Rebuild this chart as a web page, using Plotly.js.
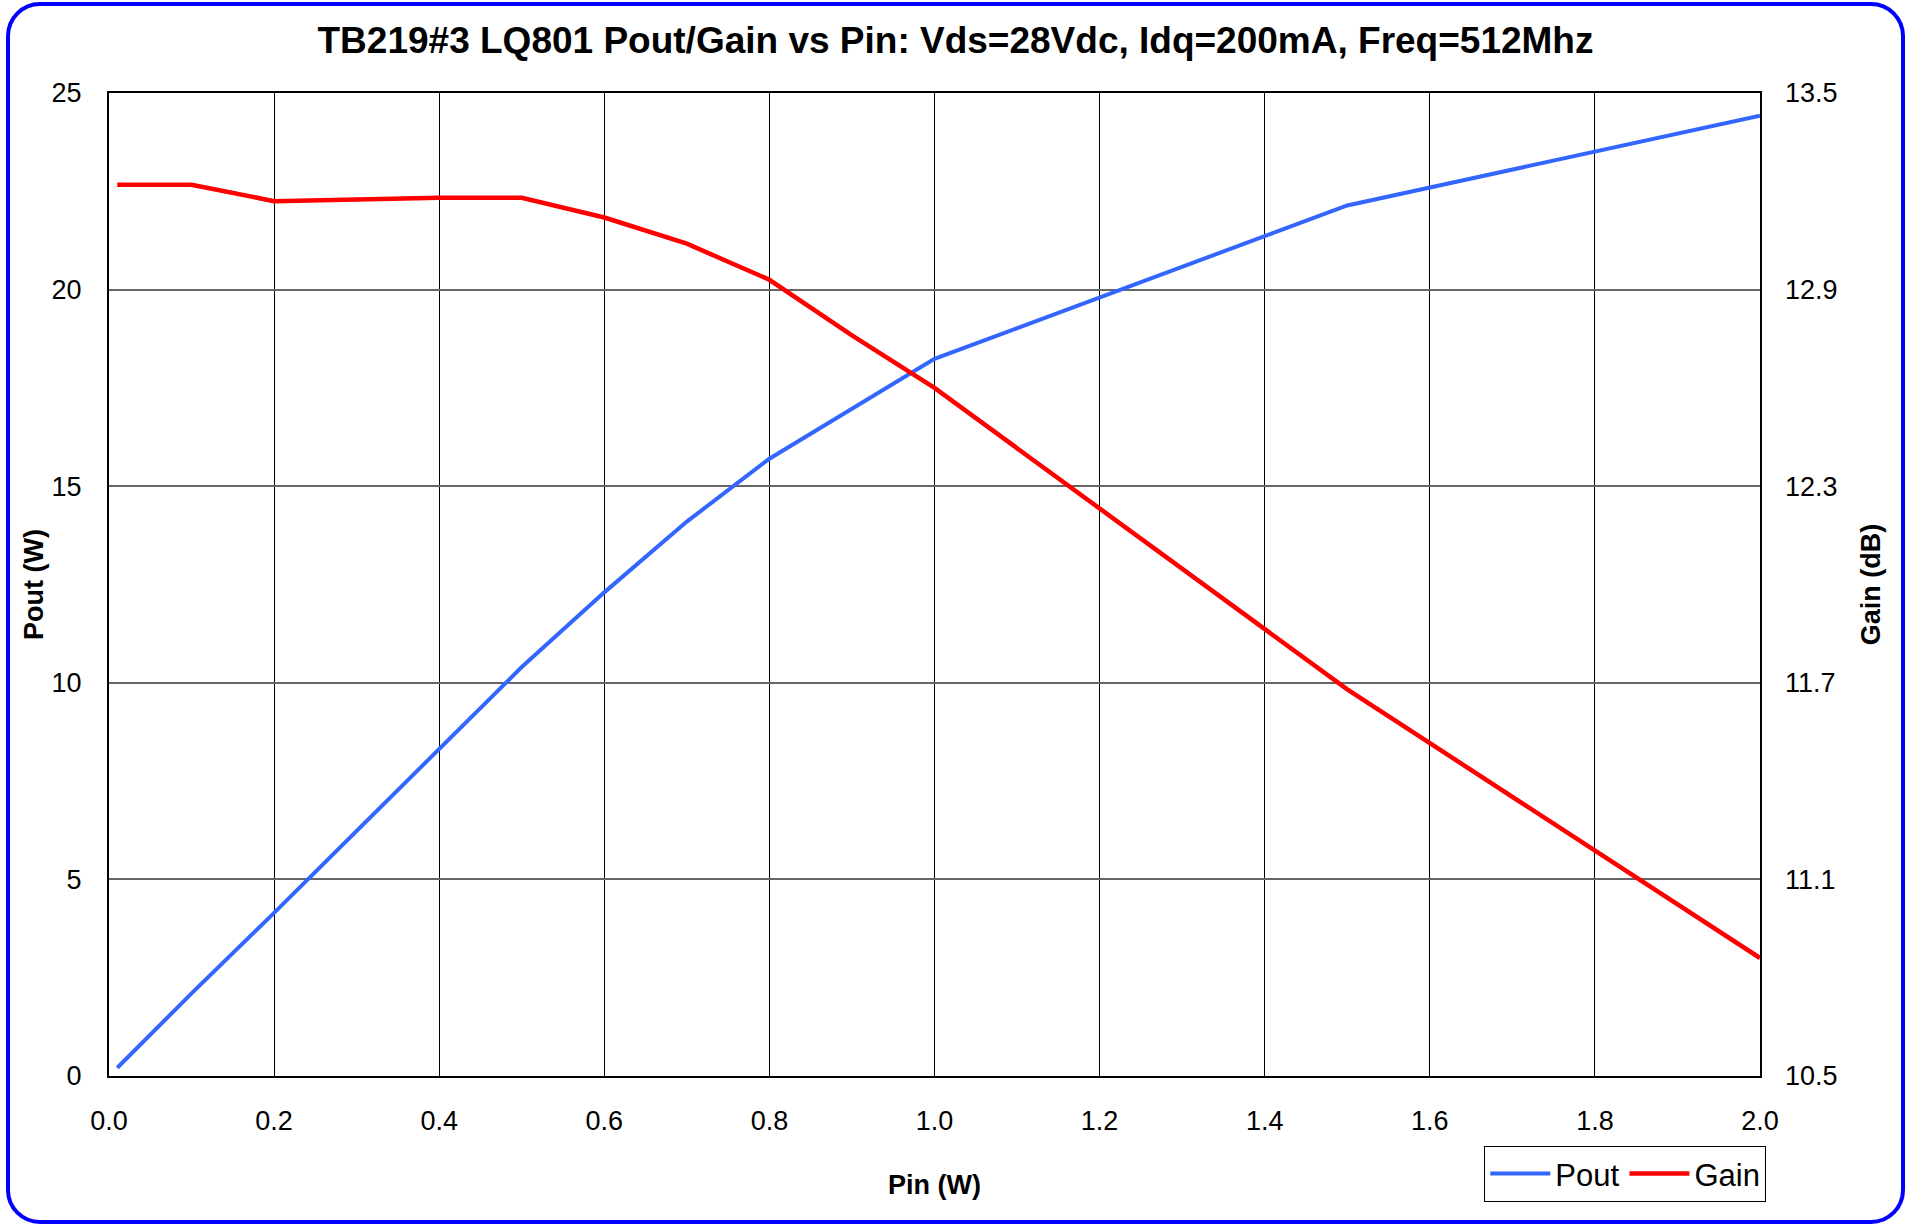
<!DOCTYPE html>
<html>
<head>
<meta charset="utf-8">
<script src="https://cdn.plot.ly/plotly-3.0.1.min.js"></script>
<style>
  html, body { margin: 0; padding: 0; background: #fff; }
  #wrap { position: relative; width: 1911px; height: 1225px; }
  #chart { position: absolute; left: 0; top: 0; width: 1911px; height: 1225px; }
  #frame { position: absolute; left: 6px; top: 2px; width: 1891px; height: 1214px;
           border: 4px solid #0000FF; border-radius: 34px; pointer-events: none; }
</style>
</head>
<body>
<div id="wrap">
  <div id="chart"></div>
  <div id="frame"></div>
</div>
<script>
// Input power (W)
const pinW = [0.01, 0.1, 0.2, 0.3, 0.4, 0.5, 0.6, 0.7, 0.8, 0.9, 1.0, 1.5, 2.0];
// Output power (W)
const poutW = [0.21, 2.1, 4.15, 6.23, 8.32, 10.4, 12.3, 14.1, 15.7, 16.98, 18.24, 22.14, 24.42];
// Gain (dB)
const gainDb = [13.22, 13.22, 13.17, 13.175, 13.18, 13.18, 13.12, 13.04, 12.93, 12.76, 12.60, 11.68, 10.86];

const titleText = 'TB219#3 LQ801 Pout/Gain vs Pin: Vds=28Vdc, Idq=200mA, Freq=512Mhz';
const FONT = 'Liberation Sans, Arial, sans-serif';

const traces = [
  { x: pinW, y: poutW, name: 'Pout', type: 'scatter', mode: 'lines',
    line: { color: '#3366FF', width: 4 }, yaxis: 'y' },
  { x: pinW, y: gainDb, name: 'Gain', type: 'scatter', mode: 'lines',
    line: { color: '#FF0000', width: 4.5 }, yaxis: 'y2' }
];

const layout = {
  width: 1911, height: 1225,
  margin: { l: 109, r: 151, t: 93, b: 149 },
  paper_bgcolor: '#ffffff', plot_bgcolor: '#ffffff',
  font: { family: FONT, color: '#000', size: 27 },
  title: { text: '<b>' + titleText + '</b>', font: { family: FONT, size: 37, color: '#000' },
           x: 0.5, xanchor: 'center', y: 0.967, yanchor: 'middle' },
  showlegend: true,
  legend: { orientation: 'h', x: 0.833, xanchor: 'left', y: -0.071, yanchor: 'top',
            bordercolor: '#000', borderwidth: 1, bgcolor: '#fff',
            font: { family: FONT, size: 31, color: '#000' }, itemwidth: 60 },
  xaxis: {
    range: [0, 2], dtick: 0.2, tick0: 0, tickformat: '.1f',
    showgrid: true, gridcolor: '#000', gridwidth: 1,
    showline: true, linecolor: '#000', linewidth: 2, mirror: true,
    zeroline: false, ticks: '', ticklabelstandoff: 20,
    tickfont: { family: FONT, size: 27 },
    title: { text: '<b>Pin (W)</b>', font: { family: FONT, size: 27 }, standoff: 40 }
  },
  yaxis: {
    range: [0, 25], dtick: 5, tick0: 0,
    showgrid: true, gridcolor: '#666', gridwidth: 2,
    showline: true, linecolor: '#000', linewidth: 2, mirror: true,
    zeroline: false, ticks: '', ticklabelstandoff: 20,
    tickfont: { family: FONT, size: 27 },
    title: { text: '<b>Pout (W)</b>', font: { family: FONT, size: 27 }, standoff: 0 }
  },
  yaxis2: {
    range: [10.5, 13.5], dtick: 0.6, tick0: 10.5, tickformat: '.1f',
    overlaying: 'y', side: 'right', showgrid: false, zeroline: false,
    ticks: '', ticklabelstandoff: 24,
    tickfont: { family: FONT, size: 27 },
    title: { text: '<b>Gain (dB)</b>', font: { family: FONT, size: 27 }, standoff: 24 }
  }
};

Plotly.newPlot('chart', traces, layout, { staticPlot: true, displayModeBar: false });
</script>
</body>
</html>
